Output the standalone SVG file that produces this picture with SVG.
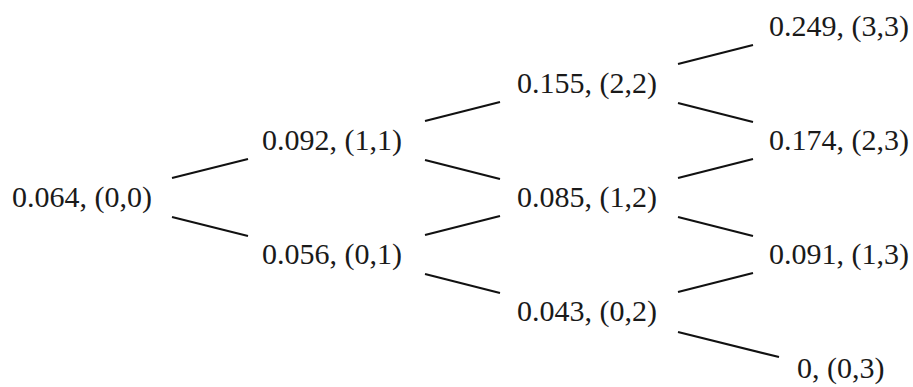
<svg xmlns="http://www.w3.org/2000/svg" width="913" height="387" viewBox="0 0 913 387">
<style>
text{font-family:"Liberation Serif","Times New Roman",serif;font-size:30px;fill:#1a1a1a}
.c line{stroke:#111;stroke-width:2.2}
</style>
<rect width="913" height="387" fill="#fff"/>
<g class="c" id="connectors">
<line x1="172" y1="178" x2="248" y2="159"/>
<line x1="172" y1="217" x2="248" y2="236"/>
<line x1="425" y1="121" x2="500" y2="102"/>
<line x1="425" y1="160" x2="500" y2="179"/>
<line x1="425" y1="235" x2="500" y2="216"/>
<line x1="425" y1="274" x2="500" y2="293"/>
<line x1="678" y1="64" x2="753" y2="45"/>
<line x1="678" y1="103" x2="753" y2="122"/>
<line x1="678" y1="178" x2="753" y2="159"/>
<line x1="678" y1="217" x2="753" y2="236"/>
<line x1="678" y1="292" x2="753" y2="273"/>
<line x1="678" y1="332" x2="779" y2="357"/>
</g>
<g id="n00"><text x="12" y="207">0.064, (0,0)</text></g>
<g id="n11"><text x="262" y="150">0.092, (1,1)</text></g>
<g id="n01"><text x="262" y="264">0.056, (0,1)</text></g>
<g id="n22"><text x="517" y="93">0.155, (2,2)</text></g>
<g id="n12"><text x="517" y="207">0.085, (1,2)</text></g>
<g id="n02"><text x="517" y="321">0.043, (0,2)</text></g>
<g id="n33"><text x="769" y="36">0.249, (3,3)</text></g>
<g id="n23"><text x="769" y="150">0.174, (2,3)</text></g>
<g id="n13"><text x="769" y="264">0.091, (1,3)</text></g>
<g id="n03"><text x="797" y="378">0, (0,3)</text></g>
</svg>
